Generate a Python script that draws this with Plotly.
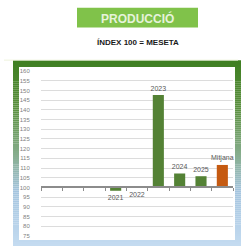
import plotly.graph_objects as go

# ---- data ----
categories = ["c1", "c2", "c3", "2021", "2022", "2023", "2024", "2025", "Mitjana"]
labels = ["", "", "", "2021", "2022", "2023", "2024", "2025", "Mitjana"]
values = [None, None, None, 98.3, 99.9, 147.6, 107.2, 105.8, 111.6]
bar_colors = ["#548235"] * 8 + ["#c55a11"]
base_value = 100
y_ticks = list(range(75, 165, 5))

W, H = 242, 248
ML, MR, MT, MB = 41, 9, 71, 10
PW, PH = W - ML - MR, H - MT - MB


def px(x):
    return (x - ML) / PW


def py(y):
    return (H - MB - y) / PH


label_font = dict(size=7, color="#595959", family="Liberation Sans")

fig = go.Figure()
fig.add_trace(go.Bar(
    x=categories,
    y=[None if v is None else v - base_value for v in values],
    base=base_value,
    marker=dict(color=bar_colors, line=dict(width=0)),
    width=0.52,
    text=labels,
    textposition="outside",
    constraintext="none",
    textfont=label_font,
    outsidetextfont=label_font,
    cliponaxis=False,
    hoverinfo="skip",
))

shapes = []


def hexmix(c1, c2, t):
    a = [int(c1[i:i + 2], 16) for i in (1, 3, 5)]
    b = [int(c2[i:i + 2], 16) for i in (1, 3, 5)]
    return "#%02x%02x%02x" % tuple(round(a[k] + (b[k] - a[k]) * t) for k in range(3))


stops = [(0.0, "#3f7f22"), (0.25, "#5a8f3e"), (0.5, "#86ad8c"), (0.7, "#a4c4de"), (1.0, "#c5dcf1")]


def grad(t):
    for i in range(len(stops) - 1):
        t0, c0 = stops[i]
        t1, c1 = stops[i + 1]
        if t <= t1:
            return hexmix(c0, c1, (t - t0) / (t1 - t0))
    return stops[-1][1]


top, bot = 60, 248
step = 2
yy = top
while yy < bot:
    t = (yy - top) / (bot - top)
    shapes.append(dict(type="rect", xref="paper", yref="paper",
                       x0=px(13), x1=px(241), y0=py(yy), y1=py(min(yy + step, bot)),
                       fillcolor=grad(t), line=dict(width=0), layer="below"))
    yy += step
# inner white area
shapes.append(dict(type="rect", xref="paper", yref="paper",
                   x0=px(19), x1=px(235), y0=py(67), y1=py(242),
                   fillcolor="white", line=dict(width=0), layer="below"))
# header line
shapes.append(dict(type="line", xref="paper", yref="paper",
                   x0=px(4), x1=px(238), y0=py(60), y1=py(60),
                   line=dict(color="#eef3dc", width=1), layer="below"))
# title box
shapes.append(dict(type="rect", xref="paper", yref="paper",
                   x0=px(77), x1=px(198), y0=py(7), y1=py(27),
                   fillcolor="#80c24a", line=dict(width=0), layer="below"))
fig.update_layout(shapes=shapes)

fig.add_annotation(xref="paper", yref="paper", x=px(137.5), y=py(17.5),
                   text="<b>PRODUCCIÓ</b>", showarrow=False,
                   font=dict(size=12, color="#e6f3da", family="Liberation Sans"),
                   xanchor="center", yanchor="middle")
fig.add_annotation(xref="paper", yref="paper", x=px(138), y=py(42.5),
                   text="<b>ÍNDEX 100 = MESETA</b>", showarrow=False,
                   font=dict(size=8, color="#1a1a1a", family="Liberation Sans"),
                   xanchor="center", yanchor="middle")

fig.update_layout(
    width=W, height=H,
    margin=dict(l=ML, r=MR, t=MT, b=MB),
    paper_bgcolor="white",
    plot_bgcolor="rgba(0,0,0,0)",
    showlegend=False,
    bargap=0.48,
    hovermode=False,
    xaxis=dict(
        type="category",
        categoryorder="array", categoryarray=categories,
        anchor="free", position=(base_value - 75) / (160 - 75),
        showline=True, linecolor="#8c8c8c", linewidth=2,
        ticks="outside", tickson="boundaries", ticklen=3, tickwidth=1, tickcolor="#8c8c8c",
        showticklabels=False, showgrid=False, zeroline=False,
        range=[-0.5, 8.5],
    ),
    yaxis=dict(
        range=[75, 160],
        tickmode="array", tickvals=y_ticks,
        showgrid=True, gridcolor="#dcdcdc", gridwidth=1,
        zeroline=False, showline=False,
        ticks="outside", ticklen=9, tickcolor="rgba(0,0,0,0)",
        tickfont=dict(size=6, color="#7f7f7f", family="Liberation Sans"),
    ),
)

fig.write_html(
    "out.html",
    config={"displayModeBar": False, "staticPlot": True},
    post_script="document.body.style.margin='0';document.body.style.overflow='hidden';",
)
